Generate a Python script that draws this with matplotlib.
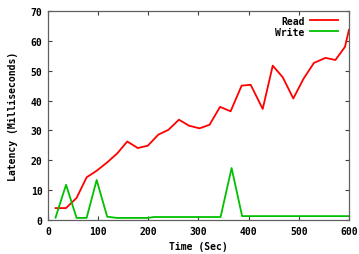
import matplotlib
matplotlib.use("Agg")
import matplotlib.pyplot as plt

# Sample times (sec)
read_time = [15, 36, 57, 77, 97, 118, 138, 158, 179, 199, 220, 240, 261, 281, 302,
             322, 343, 364, 386, 404, 428, 448, 468, 489, 509, 530, 553, 573, 592, 600]
read_latency = [4.0, 4.0, 7.4, 14.3, 16.5, 19.3, 22.3, 26.3, 24.1, 24.9, 28.6, 30.2,
                33.6, 31.6, 30.7, 31.9, 37.9, 36.4, 45.0, 45.3, 37.2, 51.7, 47.8,
                40.7, 47.2, 52.6, 54.3, 53.6, 58.0, 63.7]

write_time = [15, 36, 57, 77, 97, 118, 138, 158, 179, 199, 211, 240, 261, 281, 302,
              322, 344, 366, 387, 404, 428, 448, 468, 489, 509, 530, 553, 573, 592, 600]
write_latency = [0.8, 11.8, 0.7, 0.7, 13.4, 1.1, 0.7, 0.7, 0.7, 0.7, 1.0, 1.0, 1.0,
                 1.0, 1.0, 1.0, 1.0, 17.4, 1.3, 1.3, 1.3, 1.3, 1.3, 1.3, 1.3, 1.3,
                 1.3, 1.3, 1.3, 1.3]

x_ticks = [0, 100, 200, 300, 400, 500, 600]
y_ticks = [0, 10, 20, 30, 40, 50, 60, 70]

plt.rcParams['font.family'] = ['DejaVu Sans Mono']
plt.rcParams['font.weight'] = 'bold'
plt.rcParams['font.size'] = 7

fig = plt.figure(figsize=(3.59, 2.55), dpi=100)
ax = fig.add_axes([0.1337, 0.1333, 0.9721 - 0.1337, 0.9529 - 0.1333])

ax.plot(read_time, read_latency, color='#ff0000', lw=1.3, label='Read')
ax.plot(write_time, write_latency, color='#00c000', lw=1.3, label='Write')

ax.set_xlim(0, 600)
ax.set_ylim(0, 70)
ax.set_xticks(x_ticks)
ax.set_yticks(y_ticks)
ax.tick_params(direction='in', length=3, width=0.8, color='#404040',
               top=True, right=True, pad=4)
for s in ax.spines.values():
    s.set_color('#606060')
    s.set_linewidth(0.9)

ax.set_xlabel('Time (Sec)', fontweight='bold', labelpad=4)
ax.set_ylabel('Latency (Milliseconds)', fontweight='bold', labelpad=9)

ax.legend(loc='upper right', frameon=False, markerfirst=False, handlelength=2.8,
          handletextpad=0.6, labelspacing=0.1, borderaxespad=0.3,
          bbox_to_anchor=(0.985, 1.01))

fig.savefig('out.png', dpi=100)
